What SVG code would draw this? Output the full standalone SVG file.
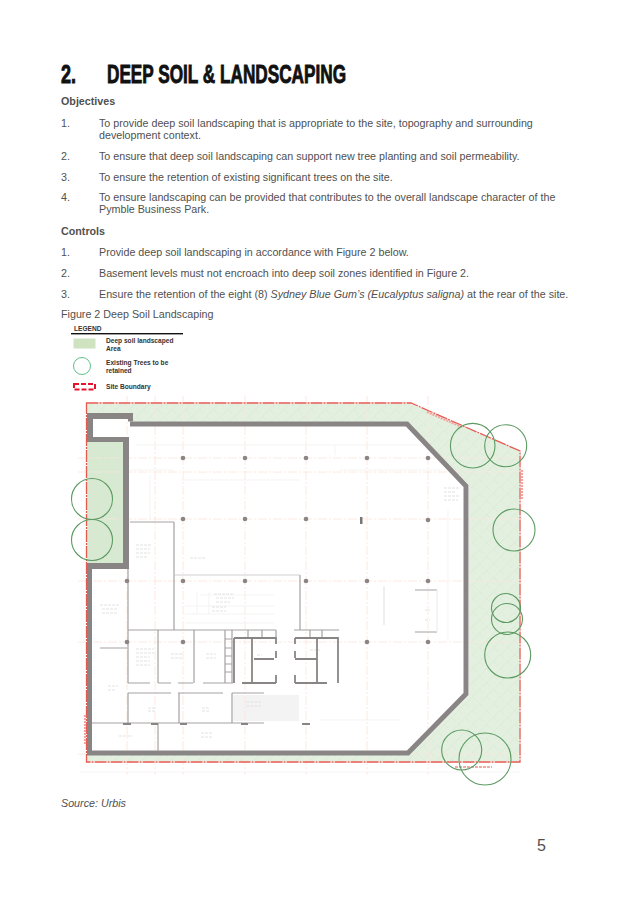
<svg xmlns="http://www.w3.org/2000/svg" width="637" height="901" viewBox="0 0 637 901">
<style>
text{font-family:"Liberation Sans",Arial,sans-serif;fill:#505050}
.b{font-size:10.73px}
.h{font-size:10.73px;font-weight:bold}
.t{font-size:25.5px;font-weight:bold;fill:#111;stroke:#111;stroke-width:.9}
.l{font-size:6.6px;font-weight:bold;fill:#333}
.tree{fill:none;stroke:#5c9a62;stroke-width:1.1}
.grid{stroke:#fbe4da;stroke-width:.8;stroke-dasharray:9 2 2 2;fill:none}
.col{fill:#8b8585}
.w{stroke:#a5a1a1;stroke-width:1.2;fill:none}
.wt{stroke:#8a8585;stroke-width:1.8;fill:none}
.f{stroke:#efefef;stroke-width:.7;fill:none}
.s{stroke:#e2e2e2;stroke-width:1;fill:none;stroke-dasharray:3 1}
</style>
<defs>
<pattern id="hatch" width="14" height="14" patternUnits="userSpaceOnUse">
<rect width="14" height="14" fill="#e3f0e0"/>
<path d="M0 7L7 0M7 14L14 7M3 3L8 8M10 10L14 14" stroke="#d6e8d2" stroke-width=".6"/>
</pattern>
</defs>
<rect width="637" height="901" fill="#fff"/>

<g id="page-text">
<text class="t" x="61" y="83" textLength="15" lengthAdjust="spacingAndGlyphs">2.</text>
<text class="t" x="107" y="83" textLength="239" lengthAdjust="spacingAndGlyphs">DEEP SOIL &amp; LANDSCAPING</text>
<text class="h" x="61" y="105">Objectives</text>
<text class="b" x="61" y="127">1.</text>
<text class="b" x="99" y="127">To provide deep soil landscaping that is appropriate to the site, topography and surrounding</text>
<text class="b" x="99" y="139">development context.</text>
<text class="b" x="61" y="160">2.</text>
<text class="b" x="99" y="160">To ensure that deep soil landscaping can support new tree planting and soil permeability.</text>
<text class="b" x="61" y="181">3.</text>
<text class="b" x="99" y="181">To ensure the retention of existing significant trees on the site.</text>
<text class="b" x="61" y="201">4.</text>
<text class="b" x="99" y="201">To ensure landscaping can be provided that contributes to the overall landscape character of the</text>
<text class="b" x="99" y="213">Pymble Business Park.</text>
<text class="h" x="61" y="235">Controls</text>
<text class="b" x="61" y="256">1.</text>
<text class="b" x="99" y="256">Provide deep soil landscaping in accordance with Figure 2 below.</text>
<text class="b" x="61" y="277">2.</text>
<text class="b" x="99" y="277">Basement levels must not encroach into deep soil zones identified in Figure 2.</text>
<text class="b" x="61" y="298">3.</text>
<text class="b" x="99" y="298">Ensure the retention of the eight (8) <tspan font-style="italic">Sydney Blue Gum’s (Eucalyptus saligna)</tspan> at the rear of the site.</text>
<text class="b" x="61" y="318">Figure 2 Deep Soil Landscaping</text>
<text class="b" x="61" y="807" font-style="italic">Source: Urbis</text>
<text x="537" y="851" font-size="16">5</text>
</g>

<g id="legend">
<text class="l" x="74" y="331">LEGEND</text>
<rect x="71" y="333" width="112" height="1.4" fill="#111"/>
<rect x="73.500" y="338.500" width="22" height="10" fill="#cfe3c0"/>
<text class="l" x="106" y="342.500">Deep soil landscaped</text>
<text class="l" x="106" y="351">Area</text>
<circle cx="82" cy="366" r="8.500" fill="none" stroke="#5fc08a" stroke-width="1"/>
<text class="l" x="106" y="364.500">Existing Trees to be</text>
<text class="l" x="106" y="373">retained</text>
<rect x="74" y="384" width="21" height="5.500" fill="none" stroke="#e8112d" stroke-width="2" stroke-dasharray="5 2"/>
<text class="l" x="106" y="389">Site Boundary</text>
</g>

<g id="plan-base">
<path fill="url(#hatch)" d="M87 404H411L519 451V761H87V755H408L469 695V485L408 422H133V413H87Z"/>
<rect x="87" y="442" width="36" height="121" fill="#d8e9d2"/>
<rect x="233" y="695" width="66" height="26" fill="#f3f3f3"/>
</g>

<g id="grid">
<path class="grid" d="M127 396V775M155 396V775M183 396V775M245 396V775M306 396V775M367 396V775M428 396V775"/>
<path class="grid" d="M78 458H525M78 472H525M78 519H525M78 581H525M78 642H525M78 754H525"/>
<path d="M80 772H520" stroke="#f4f4f4" stroke-width=".8"/>
</g>

<g id="floor-detail">
<path class="f" d="M130 470H174M136 445H430M150 475V520M182 480H300M340 470H440M335 445V455M448 510V640M300 630H340M320 720H400"/>
<path class="f" d="M185 606H274M185 614H274M185 623H274M197 592V614M209 592V614M200 595H274"/>
<path class="s" d="M100 605H120M102 609H118M102 613H118M136 545H152M136 549H150M136 553H150M136 557H148M444 488H460M444 492H456M444 496H460M444 500H458M190 558H205M214 594H234M216 598H234M216 602H230M212 607H226M212 611H226M136 649H154M136 653H154M136 657H150M136 661H150M136 665H150M171 654H182M171 658H182M206 654H216M206 658H216M108 686H118M108 690H116M148 708H156M148 711H156M202 708H210M202 711H210M119 736H132M201 733H213M201 737H213M257 655H262M246 702H262M246 706H262M425 610H430M425 620H430M310 650H320"/>
<path d="M384 586V625" stroke="#e6e6e6" stroke-width="1.200" fill="none"/>
</g>

<g id="walls">
<path fill="none" stroke="#8a8585" stroke-width="5" stroke-linejoin="miter" d="M89.500 569V753H408L466 694V486L407 424H130"/>
<path fill="#8a8585" d="M87 413H133V421.500H128V419H93V437H129V569H87V563H123V442H87Z"/>
<rect x="360" y="517" width="2.500" height="7" fill="#777"/>
</g>

<g id="interior-walls">
<path class="w" d="M128 569V683M130 522H174M174 522V630M128 630H276M300 575V630M294 630H339"/>
<path d="M174 575H300" stroke="#c9c9c9" stroke-width=".9"/>
<path class="w" d="M158 630V683M194 630V683M225 630V683M232 630V683M225 639H232M225 648H232M225 656H232M225 664H232M225 672H232M248 630V637M262 630V637M276 630V637M310 630V637M322 630V637"/>
<path class="w" d="M128 683H150M158 683H171M178 683H193M203 683H233M128 693H171M178 693H223M232 693H264M128 693V723M179 693V723M232 693V723M92 723H264M158 723V751M100 648H127"/>
<path class="wt" d="M234 638H276V644M234 638V683M252 638V683M254 659H274M276 651V658M276 675V683M242 683H276M295 638H338V683M295 638V644M295 651V658M295 675V683M317 638V683M295 659H317M295 683H327"/>
<path class="wt" d="M123 724H131M151 724H158M180 724H187M241 724H248M302 724H310"/>
<path class="w" d="M415 590H437M415 632H437"/>
<path d="M437 590V632" stroke="#ededed" stroke-width="1.200"/>
</g>

<g id="columns">
<circle class="col" cx="183" cy="458" r="2.300"/><circle class="col" cx="245" cy="458" r="2.300"/><circle class="col" cx="306" cy="458" r="2.300"/><circle class="col" cx="367" cy="458" r="2.300"/><circle class="col" cx="428" cy="458" r="2.300"/>
<circle class="col" cx="183" cy="519" r="2.300"/><circle class="col" cx="245" cy="519" r="2.300"/><circle class="col" cx="306" cy="519" r="2.300"/><circle class="col" cx="428" cy="520" r="2.300"/>
<circle class="col" cx="127" cy="581" r="2.300"/><circle class="col" cx="183" cy="581" r="2.300"/><circle class="col" cx="245" cy="581" r="2.300"/><circle class="col" cx="306" cy="581" r="2.300"/><circle class="col" cx="367" cy="581" r="2.300"/><circle class="col" cx="428" cy="581" r="2.300"/>
<circle class="col" cx="127" cy="642" r="2.300"/><circle class="col" cx="183" cy="642" r="2.300"/><circle class="col" cx="367" cy="642" r="2.300"/><circle class="col" cx="428" cy="642" r="2.300"/>
</g>

<g id="site-boundary">
<path d="M86.500 403H411L520 451V762H86.500Z" fill="none" stroke="#e45a50" stroke-width="1.300" stroke-dasharray="12 1 2 1"/>
<path d="M427 412L462 427M522 470V500M85 715V745" stroke="#f3a49e" stroke-width="2.200" stroke-dasharray="2 1" fill="none"/>
<path d="M455 767H492" stroke="#ee8f88" stroke-width="1.400" stroke-dasharray="3 1" fill="none"/>
</g>

<g id="trees">
<circle class="tree" cx="92" cy="499" r="20.500"/>
<circle class="tree" cx="92" cy="540" r="20.500"/>
<circle class="tree" cx="472.700" cy="445.700" r="22.300"/>
<circle class="tree" cx="505.700" cy="445.700" r="21"/>
<circle class="tree" cx="514" cy="530" r="21"/>
<circle class="tree" cx="506" cy="608" r="14.500"/>
<circle class="tree" cx="507" cy="619" r="15.500"/>
<circle class="tree" cx="507.700" cy="655" r="23"/>
<circle class="tree" cx="461.700" cy="750" r="20"/>
<circle class="tree" cx="485" cy="759" r="26"/>
</g>
</svg>
